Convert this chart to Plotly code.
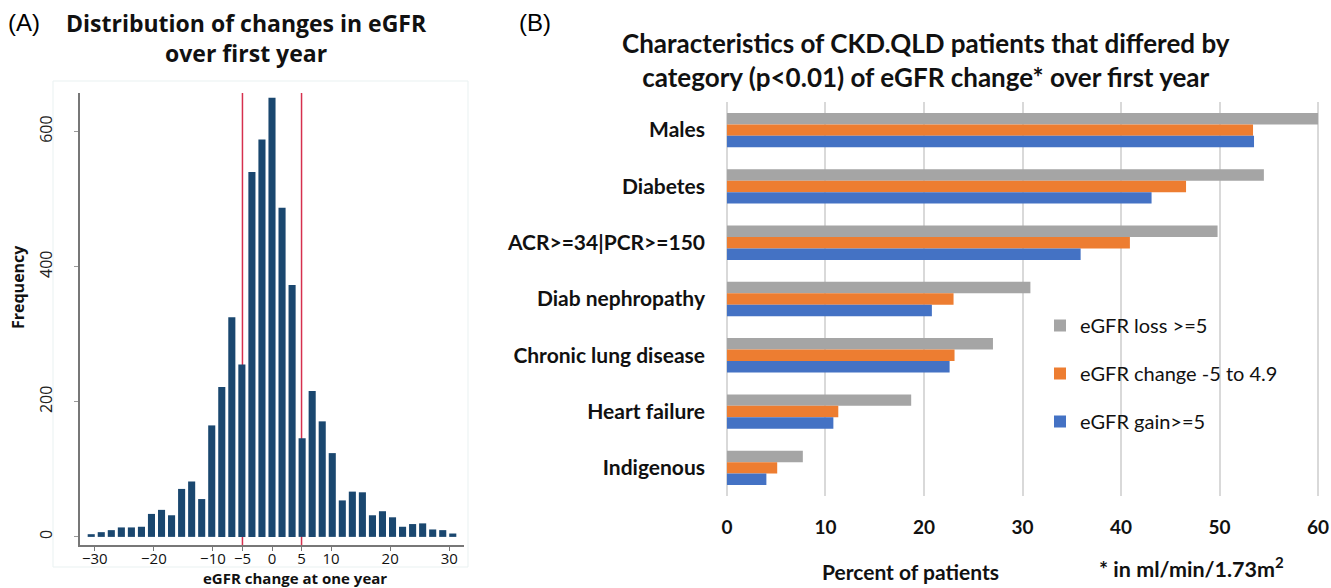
import plotly.graph_objects as go

W, H = 1331, 588

# ---------------- Panel A data ----------------
bin_centers = [-30.6, -28.9, -27.2, -25.5, -23.8, -22.1, -20.4, -18.7, -17.0, -15.3,
               -13.6, -11.9, -10.2, -8.5, -6.8, -5.1, -3.4, -1.7, 0.0, 1.7,
               3.4, 5.1, 6.8, 8.5, 10.2, 11.9, 13.6, 15.3, 17.0, 18.7,
               20.4, 22.1, 23.8, 25.5, 27.2, 28.9, 30.6]
frequencies = [4, 7, 10, 14, 14, 15, 34, 40, 32, 71,
               82, 56, 165, 222, 325, 255, 540, 588, 650, 487,
               373, 146, 216, 171, 124, 54, 67, 66, 32, 38,
               29, 15, 19, 20, 11, 10, 5]
ref_lines = [-5, 5]
hist_xticks = [-30, -20, -10, -5, 0, 5, 10, 20, 30]
hist_yticks = [0, 200, 400, 600]

# ---------------- Panel B data ----------------
categories = ["Males", "Diabetes", "ACR>=34|PCR>=150", "Diab nephropathy",
              "Chronic lung disease", "Heart failure", "Indigenous"]
loss = [60.0, 54.5, 49.8, 30.8, 27.0, 18.7, 7.7]
stable = [53.4, 46.6, 40.9, 23.0, 23.1, 11.3, 5.1]
gain = [53.5, 43.1, 35.9, 20.8, 22.6, 10.8, 4.0]
series_names = ["eGFR loss >=5", "eGFR change -5 to 4.9", "eGFR gain>=5"]
series_colors = ["#a5a5a5", "#ed7d31", "#4472c4"]
pct_ticks = [0, 10, 20, 30, 40, 50, 60]


def fx(p):
    return p / W


def fy(p):
    return 1 - p / H


FONT = "Lato, 'Open Sans', sans-serif"
FONT_A = "'Open Sans', 'Noto Sans', sans-serif"

fig = go.Figure()

# Panel A histogram
fig.add_trace(go.Bar(
    x=bin_centers, y=frequencies, width=1.2,
    marker=dict(color="#1a476f", line=dict(width=0)),
    xaxis="x", yaxis="y", showlegend=False,
))

# Panel B grouped bars
for name, vals, col in zip(series_names, [loss, stable, gain], series_colors):
    fig.add_trace(go.Bar(
        y=categories, x=vals, orientation="h", name=name,
        marker=dict(color=col, line=dict(width=0)),
        xaxis="x2", yaxis="y2", legendgroup=name,
    ))

shapes = []
for v in ref_lines:
    shapes.append(dict(type="line", xref="x", yref="paper", x0=v, x1=v,
                       y0=fy(545), y1=fy(93), layer="below",
                       line=dict(color="#d6304e", width=1.5)))
shapes.append(dict(type="rect", xref="paper", yref="paper",
                   x0=fx(53), x1=fx(468), y0=fy(567), y1=fy(81),
                   line=dict(color="#e9f1f1", width=1), layer="below"))

annotations = [
    dict(text="(A)", x=fx(6), y=fy(23), xanchor="left", yanchor="middle",
         font=dict(family="Liberation Sans, Arial", size=24, color="#000")),
    dict(text="<b>Distribution of changes in eGFR<br>over first year</b>",
         x=fx(246), y=fy(38), xanchor="center", yanchor="middle",
         font=dict(family=FONT_A, size=23, color="#111")),
    dict(text="(B)", x=fx(517), y=fy(23), xanchor="left", yanchor="middle",
         font=dict(family="Liberation Sans, Arial", size=24, color="#000")),
    dict(text="<b>Characteristics of CKD.QLD patients that differed by<br>category (p&lt;0.01) of eGFR change* over first year</b>",
         x=fx(926), y=fy(60), xanchor="center", yanchor="middle",
         font=dict(family=FONT, size=26, color="#111")),
    dict(text="<b>Frequency</b>", x=fx(18), y=fy(287), textangle=-90,
         xanchor="center", yanchor="middle",
         font=dict(family=FONT_A, size=16, color="#111")),
    dict(text="<b>eGFR change at one year</b>", x=fx(295), y=fy(578),
         xanchor="center", yanchor="middle",
         font=dict(family=FONT_A, size=15, color="#111")),
    dict(text="<b>Percent of patients</b>", x=fx(911), y=fy(571),
         xanchor="center", yanchor="middle",
         font=dict(family=FONT, size=21, color="#111")),
    dict(text="<b>* in ml/min/1.73m<sup>2</sup></b>", x=fx(1191), y=fy(567),
         xanchor="center", yanchor="middle",
         font=dict(family=FONT, size=21.5, color="#111")),
]
for a in annotations:
    a.update(xref="paper", yref="paper", showarrow=False)

fig.update_layout(
    width=W, height=H,
    margin=dict(l=0, r=0, t=0, b=0, autoexpand=False),
    paper_bgcolor="white", plot_bgcolor="white",
    font=dict(family=FONT, color="#111"),
    barmode="group", bargap=0.39, bargroupgap=0,
    shapes=shapes, annotations=annotations,
    xaxis=dict(domain=[fx(80), fx(464)], range=[-32.5, 32.5],
               tickvals=hist_xticks, ticks="outside", ticklen=4,
               tickcolor="#777", showline=True, linecolor="#777", linewidth=1.5,
               showgrid=False, zeroline=False, automargin=False,
               ticklabelstandoff=-5,
               tickfont=dict(size=15, color="#111", family=FONT_A),
               anchor="y"),
    yaxis=dict(domain=[fy(545), fy(93)], range=[-12, 657],
               tickvals=hist_yticks, ticks="outside", ticklen=4,
               tickcolor="#999", showline=True, linecolor="#777", linewidth=1.5,
               showgrid=False, zeroline=False, tickangle=-90, automargin=False,
               tickfont=dict(size=16, color="#222", family=FONT_A),
               ticklabelstandoff=16, anchor="x"),
    xaxis2=dict(domain=[fx(725), fx(1322)], range=[-0.2, 60.4],
                tickvals=pct_ticks, showgrid=True, gridcolor="#d9d9d9",
                gridwidth=1.5, zeroline=False, showline=False, ticks="",
                ticklabelstandoff=18, automargin=False,
                tickfont=dict(size=19, color="#111", family=FONT, weight="bold"),
                anchor="y2"),
    yaxis2=dict(domain=[fy(496), fy(102)], autorange="reversed",
                showgrid=False, zeroline=False, showline=False, ticks="",
                ticklabelstandoff=19, automargin=False,
                tickfont=dict(size=21, color="#111", family=FONT, weight="bold"),
                anchor="x2"),
    legend=dict(x=fx(1040), y=fy(306), xanchor="left", yanchor="top",
                bgcolor="rgba(0,0,0,0)", itemwidth=30, tracegroupgap=19,
                font=dict(size=20, color="#111", family=FONT),
                traceorder="grouped"),
)

fig.write_html("out.html", config={"displayModeBar": False},
               post_script="document.body.style.margin='0';document.body.style.overflow='hidden';")
